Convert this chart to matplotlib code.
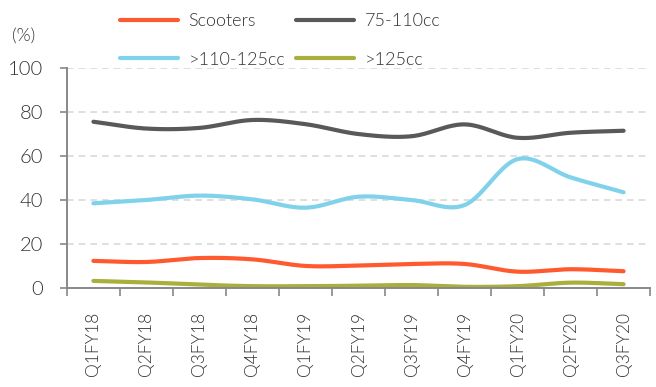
import numpy as np
import matplotlib
matplotlib.use('Agg')
import matplotlib.pyplot as plt

plt.rcParams['font.family'] = ['Lato', 'DejaVu Sans']
plt.rcParams['font.weight'] = 300

# Data
quarters = ['Q1FY18', 'Q2FY18', 'Q3FY18', 'Q4FY18', 'Q1FY19', 'Q2FY19',
            'Q3FY19', 'Q4FY19', 'Q1FY20', 'Q2FY20', 'Q3FY20']
scooters = [12.3, 11.8, 13.6, 13.0, 10.0, 10.2, 10.9, 10.9, 7.4, 8.5, 7.6]
cc_75_110 = [75.6, 72.5, 72.8, 76.4, 74.5, 70.0, 69.0, 74.4, 68.3, 70.6, 71.5]
cc_110_125 = [38.5, 40.0, 42.0, 40.3, 36.5, 41.5, 40.0, 37.7, 58.6, 50.3, 43.5]
cc_125 = [3.2, 2.5, 1.5, 0.8, 0.8, 1.0, 1.3, 0.5, 0.8, 2.4, 1.7]

series = [('Scooters', scooters, '#FF5A2F'),
          ('75-110cc', cc_75_110, '#595959'),
          ('>110-125cc', cc_110_125, '#7FD2EA'),
          ('>125cc', cc_125, '#A8AF3A')]


def smooth(x, y, n=20):
    # Catmull-Rom curve through the points, like Excel's smoothed line
    x = np.asarray(x, float)
    y = np.asarray(y, float)
    px = np.concatenate([[2 * x[0] - x[1]], x, [2 * x[-1] - x[-2]]])
    py = np.concatenate([[2 * y[0] - y[1]], y, [2 * y[-1] - y[-2]]])
    xs, ys = [], []
    t = np.linspace(0, 1, n, endpoint=False)
    for i in range(1, len(px) - 2):
        for p, out in ((px, xs), (py, ys)):
            p0, p1, p2, p3 = p[i - 1], p[i], p[i + 1], p[i + 2]
            out.extend(0.5 * (2 * p1 + (-p0 + p2) * t
                              + (2 * p0 - 5 * p1 + 4 * p2 - p3) * t ** 2
                              + (-p0 + 3 * p1 - 3 * p2 + p3) * t ** 3))
    xs.append(x[-1])
    ys.append(y[-1])
    return np.array(xs), np.array(ys)


fig = plt.figure(figsize=(6.56, 3.87), dpi=100)
ax = fig.add_axes([0.102, 0.256, 0.889, 0.568])

idx = np.arange(len(quarters))
lines = {}
for name, vals, col in series:
    sx, sy = smooth(idx, vals)
    lines[name], = ax.plot(sx, sy, color=col, lw=3, label=name, solid_capstyle='round')

ax.set_xlim(-0.5, len(quarters) - 0.5)
ax.set_ylim(0, 100)
ax.set_yticks(range(0, 101, 20))
ax.set_xticks(idx)
ax.set_xticklabels(quarters, rotation=90, fontsize=12.5, color='#333333')
ax.set_xticks(np.arange(-0.5, len(quarters), 1), minor=True)
ax.tick_params(axis='x', which='major', length=0, pad=17)
ax.tick_params(axis='x', which='minor', length=6, color='#888888', width=1.2)
ax.tick_params(axis='y', length=5, color='#888888', width=1.2,
               labelsize=14.5, labelcolor='#333333', pad=12)

ax.grid(axis='y', color='#d9d9d9', linestyle=(0, (4, 3)), lw=1.2)
ax.set_axisbelow(True)
for s in ['top', 'right']:
    ax.spines[s].set_visible(False)
for s in ['left', 'bottom']:
    ax.spines[s].set_color('#888888')
    ax.spines[s].set_linewidth(1.4)

fig.text(0.018, 0.895, '(%)', fontsize=13, color='#333333')

# row-major legend order: Scooters, 75-110cc / >110-125cc, >125cc
order = ['Scooters', '>110-125cc', '75-110cc', '>125cc']
fig.legend([lines[k] for k in order], order, loc='upper left',
           bbox_to_anchor=(0.158, 1.008), ncol=2, frameon=False,
           fontsize=13, handlelength=3.2, handletextpad=0.6,
           columnspacing=0.6, labelspacing=1.25, labelcolor='#333333')

fig.savefig('out.png', dpi=100)
